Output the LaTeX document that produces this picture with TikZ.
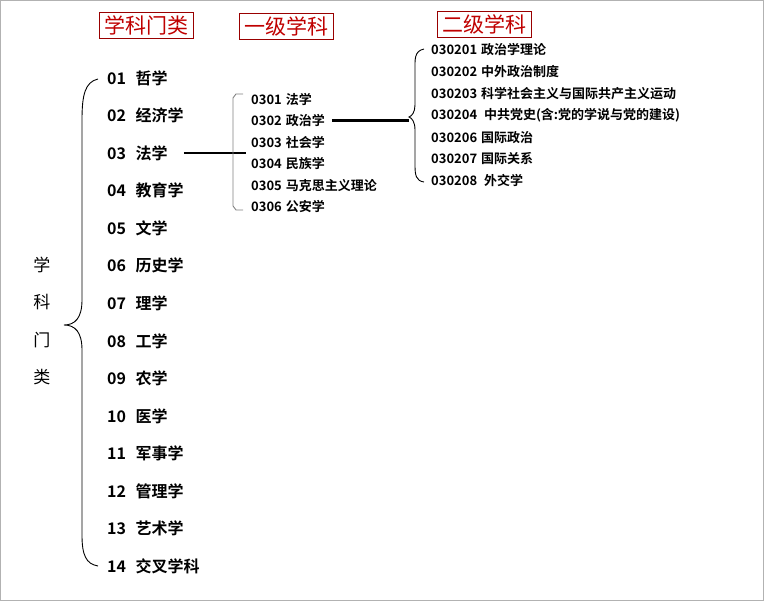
\documentclass[tikz,border=0pt]{standalone}
\usepackage{fontspec}
\setmainfont{Noto Sans CJK SC}[BoldFont={* Bold}]
\newfontfamily\cjkb{Noto Sans CJK SC Bold}
\begin{document}
\begin{tikzpicture}[x=1pt,y=-1pt,
  title/.style={draw=red!60!black,text=red!75!black,font=\fontsize{21}{21}\selectfont,inner xsep=5pt,inner ysep=3pt},
  big/.style={anchor=west,font=\cjkb\fontsize{16}{16}\selectfont,inner sep=1pt},
  small/.style={anchor=west,font=\cjkb\fontsize{13}{13}\selectfont,inner sep=1pt},
  link/.style={line width=2.2pt}]
\useasboundingbox (0,0) rectangle (764,601);
\draw[gray!60] (0.5,0.5) rectangle (763.5,600.5);
\node[title] at (146,25) {学科门类};
\node[title] at (286,26) {一级学科};
\node[title] at (484,24) {二级学科};
\foreach \t [count=\i] in {哲学,经济学,法学,教育学,文学,历史学,理学,工学,农学,医学,军事学,管理学,艺术学,交叉学科}{
  \pgfmathsetmacro\yy{78+(\i-1)*37.55}
  \node[big] (c\i) at (106,\yy) {\ifnum\i<10 0\fi\i\hspace{0.6em}\t};
}
\foreach \ch [count=\i] in {学,科,门,类}{
  \node[font=\fontsize{17}{17}\selectfont] (v\i) at (42,{265+(\i-1)*37.5}) {\ch};
}
\draw[line width=0.9pt] (98,79) .. controls (85,82) and (82,95) .. (82,120) -- (82,300)
  .. controls (82,318) and (75,325) .. (64,325) .. controls (75,325) and (82,332) .. (82,350)
  -- (82,535) .. controls (82,555) and (86,564) .. (98,566);
\coordinate (l1) at (231,153);
\draw[link] ([xshift=15pt]c3.east) -- ([xshift=15pt]c3.east -| l1);
\foreach \t [count=\i] in {法学,政治学,社会学,民族学,马克思主义理论,公安学}{
  \node[small] (m\i) at (250,{99+(\i-1)*21.6}) {030\i\hspace{0.3em}\t};
}
\draw[gray,line width=0.9pt] (243,94) -- (236,94) -- (233,98) -- (233,206) -- (236,210) -- (243,210);
\coordinate (r1) at (409,117);
\draw[link] ([xshift=6pt]m2.east) -- (m2.east -| r1);
\draw[line width=0.9pt] (424,49) .. controls (414,51) and (415,60) .. (415,70) -- (415,105)
  .. controls (415,112) and (412,116) .. (409,117) .. controls (412,118) and (415,122) .. (415,130)
  -- (415,165) .. controls (415,175) and (416,181) .. (424,182);
\foreach \c/\t [count=\i] in {030201/政治学理论,030202/中外政治制度,030203/科学社会主义与国际共产主义运动,030204/\ 中共党史(含:党的学说与党的建设),030206/国际政治,030207/国际关系,030208/\ 外交学}{
  \node[small] (s\i) at (430,{50+(\i-1)*21.8}) {\c\hspace{0.3em}\t};
}
\end{tikzpicture}
\end{document}
